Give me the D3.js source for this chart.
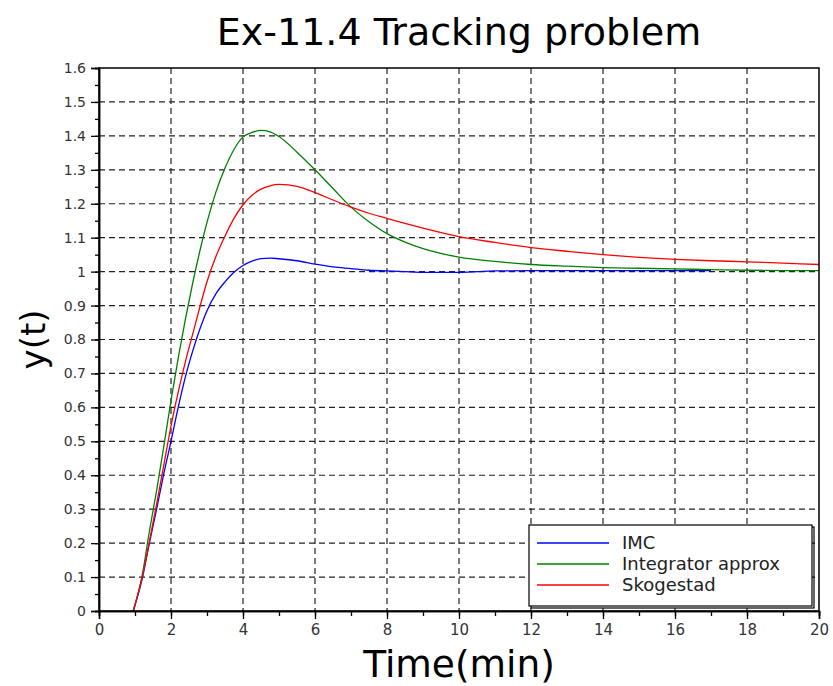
<!DOCTYPE html>
<html>
<head>
<meta charset="utf-8">
<script src="https://cdn.jsdelivr.net/npm/d3@7"></script>
<style>
  body { margin: 0; background: #fff; }
  text { font-family: "DejaVu Sans", sans-serif; }
</style>
</head>
<body>
<div id="chart"></div>
<script>
// time samples (min)
var time = [0.95, 1.2, 1.4, 1.6, 1.8, 2.0, 2.2, 2.4, 2.6, 2.8, 3.0, 3.25, 3.5, 3.75, 4.0, 4.25, 4.5, 4.75, 5.0,
            5.5, 6.0, 6.5, 7.0, 7.5, 8.0, 8.5, 9, 10, 11, 12, 13, 14, 15, 16, 17, 18, 19, 20];
var imc = [0, 0.095, 0.2, 0.3, 0.405, 0.5, 0.6, 0.69, 0.765, 0.83, 0.885, 0.935, 0.97, 0.998, 1.018, 1.031, 1.038, 1.04, 1.038,
           1.032, 1.022, 1.014, 1.009, 1.004, 1.002, 1.0, 0.998, 0.998, 1.002, 1.003, 1.003, 1.003, 1.003, 1.003, 1.003];
var integ = [0, 0.105, 0.235, 0.355, 0.485, 0.62, 0.745, 0.86, 0.965, 1.06, 1.145, 1.235, 1.305, 1.36, 1.397, 1.41, 1.416, 1.412, 1.398,
             1.352, 1.30, 1.245, 1.19, 1.147, 1.112, 1.087, 1.068, 1.043, 1.03, 1.021, 1.016, 1.012, 1.01, 1.008, 1.006, 1.004, 1.003, 1.003];
var skog = [0, 0.10, 0.205, 0.315, 0.43, 0.545, 0.645, 0.735, 0.815, 0.895, 0.97, 1.045, 1.105, 1.157, 1.197, 1.225, 1.243, 1.253, 1.257,
            1.251, 1.233, 1.211, 1.19, 1.172, 1.157, 1.142, 1.128, 1.103, 1.086, 1.071, 1.06, 1.05, 1.042, 1.036, 1.032, 1.029, 1.025, 1.021];
var seriesNames = ['IMC', 'Integrator approx', 'Skogestad'];
var seriesColors = ['#0000ff', '#008000', '#ff0000'];
var xTicks = [0, 2, 4, 6, 8, 10, 12, 14, 16, 18, 20];
var yTicks = [0, 0.1, 0.2, 0.3, 0.4, 0.5, 0.6, 0.7, 0.8, 0.9, 1, 1.1, 1.2, 1.3, 1.4, 1.5, 1.6];

var W = 833, H = 686;
var margin = {top: 68, right: 14, bottom: 75, left: 99},
    width = W - margin.left - margin.right,
    height = H - margin.top - margin.bottom;

var svg = d3.select('#chart').append('svg')
    .attr('width', W).attr('height', H);
var g = svg.append('g').attr('transform', 'translate(' + margin.left + ',' + margin.top + ')');

var x = d3.scaleLinear().domain([0, 20]).range([0, width]);
var y = d3.scaleLinear().domain([0, 1.6]).range([height, 0]);

// grid
g.append('g').selectAll('line').data(xTicks.slice(1, -1)).join('line')
    .attr('x1', d => x(d)).attr('x2', d => x(d)).attr('y1', 0).attr('y2', height)
    .attr('stroke', '#222').attr('stroke-width', 1.2).attr('stroke-dasharray', '6,4');
g.append('g').selectAll('line').data(yTicks.slice(1, -1)).join('line')
    .attr('y1', d => y(d)).attr('y2', d => y(d)).attr('x1', 0).attr('x2', width)
    .attr('stroke', '#222').attr('stroke-width', 1.2).attr('stroke-dasharray', '6,4');

// curves
var line = d3.line().x(d => x(d[0])).y(d => y(d[1])).curve(d3.curveMonotoneX);
[imc, integ, skog].forEach(function(vals, i) {
    var pts = vals.map((v, k) => [time[k], v]);
    g.append('path').datum(pts)
        .attr('d', line)
        .attr('fill', 'none')
        .attr('stroke', seriesColors[i])
        .attr('stroke-width', 1.3);
});

// box
g.append('rect').attr('width', width).attr('height', height)
    .attr('fill', 'none').attr('stroke', '#000').attr('stroke-width', 1.5);

// axes
var xMinor = d3.range(0, 21, 1);
var yMinor = d3.range(0, 1.61, 0.05);
var xAxis = d3.axisBottom(x).tickValues(xTicks).tickSize(8).tickPadding(5).tickFormat(d3.format('d'));
var yAxis = d3.axisLeft(y).tickValues(yTicks).tickSize(8).tickPadding(5).tickFormat(d => d3.format('')(+d.toFixed(1)));

var xa = g.append('g').attr('transform', 'translate(0,' + height + ')');
xa.call(d3.axisBottom(x).tickValues(xMinor).tickSize(5).tickFormat(''));
xa.append('g').call(xAxis);
var ya = g.append('g');
ya.call(d3.axisLeft(y).tickValues(yMinor).tickSize(4).tickFormat(''));
ya.append('g').call(yAxis);
g.selectAll('.domain').attr('stroke', '#000').attr('stroke-width', 1.5);
g.selectAll('.tick line').attr('stroke', '#000').attr('stroke-width', 1.3);
xa.selectAll('text').attr('font-size', 15).attr('fill', '#333').attr('font-family', 'DejaVu Sans');
ya.selectAll('text').attr('font-size', 14).attr('fill', '#333').attr('font-family', 'DejaVu Sans');

// labels
svg.append('text').attr('x', margin.left + width / 2).attr('y', 45)
    .attr('text-anchor', 'middle').attr('font-size', 38).text('Ex-11.4 Tracking problem');
svg.append('text').attr('x', margin.left + width / 2).attr('y', 677)
    .attr('text-anchor', 'middle').attr('font-size', 37.5).text('Time(min)');
svg.append('text').attr('transform', 'translate(45,' + (margin.top + height / 2) + ') rotate(-90)')
    .attr('text-anchor', 'middle').attr('font-size', 34).text('y(t)');

// legend
var lg = svg.append('g').attr('transform', 'translate(529,525)');
lg.append('rect').attr('x', 2).attr('y', 2).attr('width', 283).attr('height', 81)
    .attr('fill', 'none').attr('stroke', '#000').attr('stroke-width', 1.2);
lg.append('rect').attr('width', 283).attr('height', 81)
    .attr('fill', '#fff').attr('stroke', '#000').attr('stroke-width', 1.2);
seriesNames.forEach(function(name, i) {
    var yy = 18 + i * 21;
    lg.append('line').attr('x1', 8).attr('x2', 80).attr('y1', yy).attr('y2', yy)
        .attr('stroke', seriesColors[i]).attr('stroke-width', 1.3);
    lg.append('text').attr('x', 93).attr('y', yy + 6).attr('font-size', 18).attr('fill', '#222').text(name);
});
</script>
</body>
</html>
